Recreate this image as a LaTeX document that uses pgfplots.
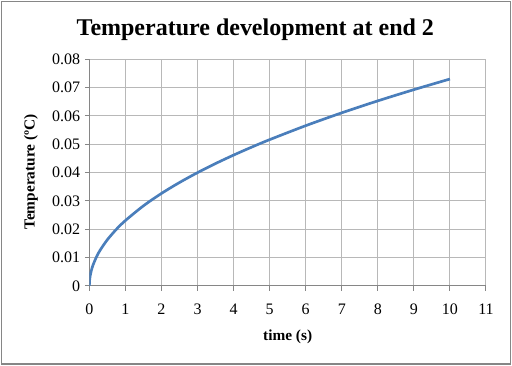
\documentclass[border=0pt]{standalone}
\usepackage{pgfplots}
\pgfplotsset{compat=1.18}
\usepackage{fontspec}
\setmainfont{Liberation Serif}
\definecolor{curve}{RGB}{74,126,187}
\definecolor{gridc}{RGB}{184,184,184}
\definecolor{axisc}{RGB}{134,134,134}
\begin{document}
\begin{tikzpicture}
\useasboundingbox (0,0) rectangle (384pt,274.5pt);
\fill[white] (0,0) rectangle (384pt,274.5pt);
\draw[axisc, line width=1.1pt] (1.2pt,1.6pt) rectangle (382.9pt,273.4pt);
\node[font=\fontsize{18}{20}\selectfont\bfseries, anchor=base] at (191.5pt,248.2pt) {Temperature development at end 2};
\begin{axis}[
  at={(67pt,60pt)}, anchor=south west,
  scale only axis, width=297.5pt, height=170pt,
  xmin=0, xmax=11, ymin=0, ymax=0.08,
  xtick={0,1,...,11},
  ytick={0,0.01,0.02,0.03,0.04,0.05,0.06,0.07,0.08},
  scaled y ticks=false,
  yticklabel style={/pgf/number format/.cd, fixed, precision=2},
  xticklabel style={yshift=-6.5pt},
  /pgf/number format/assume math mode=true,
  tick label style={font=\fontsize{12}{14}\selectfont},
  axis x line*=bottom, axis y line*=left,
  axis line style={axisc, line width=0.75pt},
  grid=major,
  major grid style={gridc, line width=0.75pt},
  tick align=outside, major tick length=3.4pt,
  tick style={axisc, line width=0.75pt},
  xtick pos=bottom, ytick pos=left,
  xlabel={\textbf{time (s)}},
  ylabel={\textbf{Temperature (ºC)}},
  label style={font=\fontsize{11.5}{13}\selectfont},
  xlabel style={at={(axis description cs:0.5,-0.225)}, anchor=center},
  ylabel style={at={(axis description cs:-0.147,0.503)}, anchor=center, rotate=0},
]
\addplot[curve, line width=2pt, smooth] coordinates {
(0,0) (0.01,0.00231) (0.02,0.00327) (0.05,0.00517) (0.1,0.0073) (0.2,0.01033)
(0.3,0.01265) (0.5,0.01633) (0.75,0.02001) (1,0.0231) (1.5,0.02829) (2,0.03267)
(2.5,0.03652) (3,0.04001) (3.5,0.04322) (4,0.0462) (4.5,0.049) (5,0.05165)
(6,0.05658) (7,0.06112) (8,0.06534) (9,0.0693) (10,0.07305)
};
\end{axis}
\end{tikzpicture}
\end{document}
